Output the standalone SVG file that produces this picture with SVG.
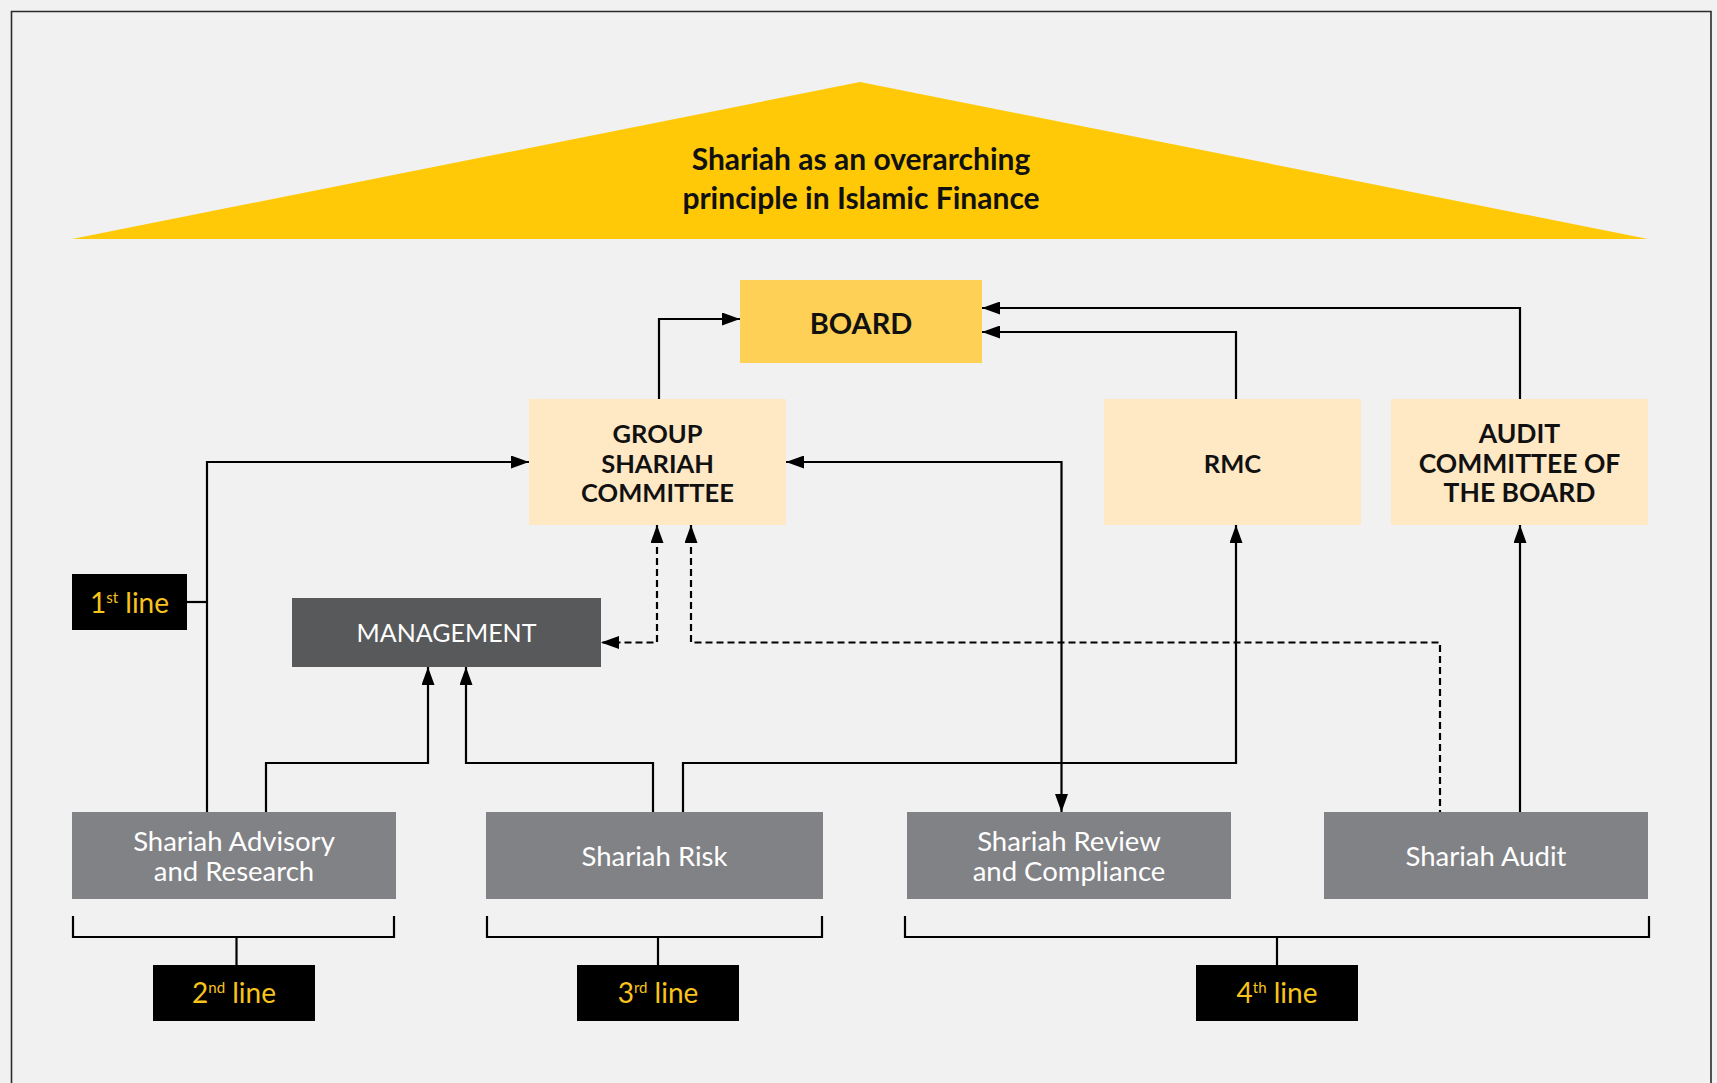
<svg xmlns="http://www.w3.org/2000/svg" width="1717" height="1083" viewBox="0 0 1717 1083">
  <style>
    .hdr { font-family: Lato, "Open Sans", "Liberation Sans", sans-serif; font-weight: 700; font-size: 30px; fill: #111; text-anchor: middle; }
    .top { font-family: Lato, "Open Sans", "Liberation Sans", sans-serif; font-weight: 700; font-size: 25.5px; fill: #111; text-anchor: middle; }
    .mgmt { font-family: Lato, "Open Sans", "Liberation Sans", sans-serif; font-weight: 400; font-size: 25px; fill: #ffffff; text-anchor: middle; }
    .unit { font-family: Lato, "Open Sans", "Liberation Sans", sans-serif; font-weight: 400; font-size: 27.5px; fill: #ffffff; text-anchor: middle; }
    .lbl { font-family: Lato, "Open Sans", "Liberation Sans", sans-serif; font-weight: 400; font-size: 28px; fill: #f8c31d; text-anchor: middle; }
    .sup { font-size: 15px; }
    .board { fill: #ffd056; }
    .cmte { fill: #ffe9c5; }
    .dark { fill: #58595b; }
    .grey { fill: #818286; }
    .tag { fill: #000000; }
    .ln { fill: none; stroke: #000; stroke-width: 2.2; }
    .dash { fill: none; stroke: #000; stroke-width: 2.2; stroke-dasharray: 7 4; }
    .arr { marker-end: url(#head); }
  </style>
  <defs>
    <marker id="head" viewBox="0 0 18 13" refX="18" refY="6.5" markerWidth="18" markerHeight="13" markerUnits="userSpaceOnUse" orient="auto-start-reverse">
      <path d="M0,0 L18,6.5 L0,13 z" fill="#000"/>
    </marker>
  </defs>

  <!-- page background and frame -->
  <rect x="0" y="0" width="1717" height="1083" fill="#f1f1f1"/>
  <path d="M11.5,1083 V11.5 H1711 V1083" fill="none" stroke="#2b2b2b" stroke-width="1.6"/>

  <!-- roof -->
  <g id="roof">
    <polygon points="860,82 1648,239 72,239" fill="#ffc907"/>
    <text class="hdr" x="861" y="170">Shariah as an overarching</text>
    <text class="hdr" x="861" y="209">principle in Islamic Finance</text>
  </g>

  <!-- connectors -->
  <g id="connectors">
    <path class="ln arr" d="M659,399 V319 H740"/>
    <path class="ln arr" d="M1236,399 V332 H982"/>
    <path class="ln arr" d="M1520,399 V308 H982"/>
    <path class="ln arr" d="M207,812 V462 H529"/>
    <path class="ln" d="M186,602 H207"/>
    <path class="ln arr" d="M266,812 V763 H428 V667"/>
    <path class="ln arr" d="M653,812 V763 H466 V667"/>
    <path class="ln arr" d="M683,812 V763 H1236 V525"/>
    <path class="ln arr" d="M786,462 H1061.5 V812" style="marker-start:url(#head)"/>
    <path class="ln arr" d="M1520,812 V525"/>
    <path class="dash arr" d="M657,525 V642.5 H601" style="marker-start:url(#head)"/>
    <path class="dash" d="M691,525 V642.5 H1440 V812" style="marker-start:url(#head)"/>
    <!-- brackets grouping the lines of defence -->
    <path class="ln" d="M73,916 V937 H394 V916 M236.5,937 V965"/>
    <path class="ln" d="M487,916 V937 H822 V916 M658,937 V965"/>
    <path class="ln" d="M905,916 V937 H1649 V916 M1277,937 V965"/>
  </g>

  <g id="board">
    <rect class="board" x="740" y="280" width="242" height="83"/>
    <text class="top" style="font-size:29px" x="861" y="334">BOARD</text>
  </g>

  <g id="group-shariah-committee">
    <rect class="cmte" x="529" y="399" width="257" height="126"/>
    <text class="top" x="657.5" y="443">GROUP</text>
    <text class="top" x="657.5" y="473">SHARIAH</text>
    <text class="top" x="657.5" y="502">COMMITTEE</text>
  </g>

  <g id="rmc">
    <rect class="cmte" x="1104" y="399" width="257" height="126"/>
    <text class="top" x="1232.5" y="473">RMC</text>
  </g>

  <g id="audit-committee">
    <rect class="cmte" x="1391" y="399" width="257" height="126"/>
    <text class="top" style="font-size:26.5px" x="1519.5" y="443">AUDIT</text>
    <text class="top" style="font-size:26.5px" x="1519.5" y="473">COMMITTEE OF</text>
    <text class="top" style="font-size:26.5px" x="1519.5" y="502">THE BOARD</text>
  </g>

  <g id="management">
    <rect class="dark" x="292" y="598" width="309" height="69"/>
    <text class="mgmt" x="446.5" y="642">MANAGEMENT</text>
  </g>

  <g id="shariah-advisory">
    <rect class="grey" x="72" y="812" width="324" height="87"/>
    <text class="unit" x="234" y="851">Shariah Advisory</text>
    <text class="unit" x="234" y="881">and Research</text>
  </g>

  <g id="shariah-risk">
    <rect class="grey" x="486" y="812" width="337" height="87"/>
    <text class="unit" x="654.5" y="866">Shariah Risk</text>
  </g>

  <g id="shariah-review">
    <rect class="grey" x="907" y="812" width="324" height="87"/>
    <text class="unit" x="1069" y="851">Shariah Review</text>
    <text class="unit" x="1069" y="881">and Compliance</text>
  </g>

  <g id="shariah-audit">
    <rect class="grey" x="1324" y="812" width="324" height="87"/>
    <text class="unit" x="1486" y="866">Shariah Audit</text>
  </g>

  <g id="line-1">
    <rect class="tag" x="72" y="574" width="115" height="56"/>
    <text class="lbl" x="129.5" y="613">1<tspan class="sup" dy="-10">st</tspan><tspan dy="10"> line</tspan></text>
  </g>

  <g id="line-2">
    <rect class="tag" x="153" y="965" width="162" height="56"/>
    <text class="lbl" x="234" y="1003">2<tspan class="sup" dy="-10">nd</tspan><tspan dy="10"> line</tspan></text>
  </g>

  <g id="line-3">
    <rect class="tag" x="577" y="965" width="162" height="56"/>
    <text class="lbl" x="658" y="1003">3<tspan class="sup" dy="-10">rd</tspan><tspan dy="10"> line</tspan></text>
  </g>

  <g id="line-4">
    <rect class="tag" x="1196" y="965" width="162" height="56"/>
    <text class="lbl" x="1277" y="1003">4<tspan class="sup" dy="-10">th</tspan><tspan dy="10"> line</tspan></text>
  </g>
</svg>
